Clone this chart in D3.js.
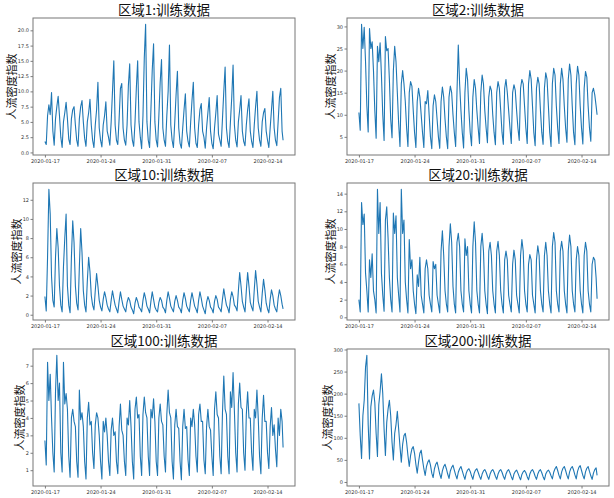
<!DOCTYPE html>
<html><head><meta charset="utf-8">
<script src="https://cdn.jsdelivr.net/npm/d3@7"></script>
<style>body{margin:0;background:#fff} svg{display:block}</style>
</head><body>
<svg id="c" width="614" height="498"></svg>
<script>
// ---------- DATA ----------
const regionNames = ["区域1", "区域2", "区域10", "区域20", "区域100", "区域200"];
const titleSuffix = ":训练数据";
const yLabelText = "人流密度指数";
const xTickDates = ["2020-01-17", "2020-01-24", "2020-01-31", "2020-02-07", "2020-02-14"];
const sampleHours = [0, 4, 8, 12, 16, 20];   // readings per day (hour of day)
const finalHour = 23;                          // last reading on the last day
const numDays = 30;

const yTicks1 = [0, 2.5, 5, 7.5, 10, 12.5, 15, 17.5, 20];
const yTicks2 = [5, 10, 15, 20, 25, 30];
const yTicks10 = [0, 2, 4, 6, 8, 10, 12];
const yTicks20 = [0, 2, 4, 6, 8, 10, 12, 14];
const yTicks100 = [1, 2, 3, 4, 5, 6, 7];
const yTicks200 = [0, 50, 100, 150, 200, 250, 300];

// values per day at hours 0,4,8,12,16,20 ; last value = final reading
const region1 = [
  1.8,1.3,6.0,7.8,6.2,9.8,  3.5,1.2,5.5,7.5,9.2,6.0,  2.5,0.8,5.0,6.5,8.2,5.5,
  2.2,1.3,5.5,7.0,7.5,4.5,  2.0,1.0,5.5,7.5,8.5,5.0,  2.3,1.0,5.0,6.5,8.7,4.5,
  2.0,0.8,4.5,7.0,11.5,4.0, 2.0,0.9,4.5,6.0,8.3,3.5,  2.5,1.2,5.0,10.0,15.0,4.5,
  2.0,1.3,5.5,10.5,11.3,4.0, 2.0,1.2,4.5,11.0,14.5,4.5, 2.0,1.0,5.0,10.5,15.0,5.0,
  2.5,0.6,6.0,15.5,21.0,5.0, 2.0,0.8,7.0,13.5,17.8,5.0, 2.0,0.9,6.0,11.5,15.2,4.0,
  2.0,1.0,6.0,10.0,17.6,4.5, 2.0,0.8,5.0,9.5,13.3,4.0, 1.5,0.7,4.0,7.0,9.6,3.5,
  1.8,0.9,5.0,8.5,11.5,4.0, 1.5,0.8,4.5,7.0,8.0,3.5,  2.5,0.7,4.0,6.5,9.0,3.5,
  1.5,0.6,4.0,6.5,9.3,3.0,  2.0,1.0,5.5,10.0,14.0,4.0, 1.8,0.8,5.0,9.0,14.3,4.5,
  2.0,0.9,5.0,7.0,9.3,3.5,  1.8,1.1,4.5,7.0,8.8,3.5,  1.8,0.8,4.5,7.5,10.0,4.0,
  2.0,1.0,5.0,6.5,7.2,3.5,  2.0,0.8,4.0,7.0,10.0,4.0, 2.0,1.1,5.0,9.0,10.5,3.5,
  2.0
];
const region2 = [
  10.5,6.5,30.5,25,29.8,22,  12,6.1,29.5,25,26.5,20,  11,4.7,25.5,22,26.3,19,
  10,4.2,27.7,24.5,25,18,    9,4.8,20,25.5,22,15,     8,2.8,17,20,17,13,
  7,2.8,15,17.5,16.5,11,     6,2.6,13,16,14,10,       6,2.6,13,12.5,15.5,10,
  5,2.3,12,14.5,13,9,        5,2.4,13,16.3,14,9,      5,2.3,14,16.5,15,10,
  6,2.8,15,25.8,17,11,       6,2.5,15,20.5,18,11,     6,3.0,14,18,16,11,
  7,3.5,15,19,17,11,         7,3.7,14,16.5,15.5,10,   6,3.2,15,17.5,16,11,
  6,3.3,16,18,15,11,         7,3.5,15,16.8,15.5,11,   7,4.2,16,18,17,12,
  7,3.5,17,20,18,12,         6,3.0,16,18.5,17,11,     6,3.3,16,19.5,18,12,
  6,2.8,17,20.5,19,12,       7,3.5,17,20.5,18,12,     7,3.8,18,21.5,19,12,
  6,3.2,17,21,19,12,         7,3.4,16,19.8,18.5,12,   7,4.0,15,16,14.5,12,
  10
];
const region10 = [
  1.9,0.4,6.0,13.1,10.5,4.0, 1.5,0.8,6.0,9.0,7.0,3.0, 1.0,0.3,5.0,8.0,10.5,3.0,
  1.0,0.2,6.0,9.8,7.5,3.0,   1.2,0.5,5.0,9.0,6.5,2.5, 1.0,0.3,3.5,6.0,4.5,2.0,
  1.0,0.5,2.5,4.3,3.0,1.5,   0.8,0.4,1.6,2.4,1.8,1.0, 0.6,0.3,1.5,2.5,1.7,1.0,
  0.6,0.2,1.4,2.4,1.6,0.9,   0.6,0.3,1.3,1.8,1.5,0.8, 0.5,0.1,1.2,1.8,1.4,0.8,
  0.6,0.3,1.5,2.3,1.7,0.9,   0.6,0.2,1.4,2.4,1.6,0.8, 0.5,0.3,1.3,1.8,1.5,0.8,
  0.6,0.2,1.5,2.4,1.7,0.9,   0.6,0.3,1.4,2.0,1.5,0.8, 0.6,0.2,1.5,2.3,1.7,0.9,
  0.6,0.3,1.5,2.3,1.6,0.9,   0.6,0.2,1.5,2.4,1.7,0.9, 0.5,0.1,1.3,1.9,1.5,0.8,
  0.6,0.2,1.4,2.0,1.6,0.8,   0.6,0.3,1.6,2.7,1.8,1.0, 0.7,0.2,1.6,2.4,1.9,1.0,
  0.8,0.4,2.5,4.4,3.0,1.4,   0.8,0.3,2.5,4.4,3.0,1.3, 0.8,0.4,2.6,4.6,3.2,1.4,
  0.8,0.3,2.2,3.7,2.6,1.2,   0.6,0.2,1.6,2.6,2.0,1.0, 0.6,0.3,1.7,2.6,2.0,1.1,
  0.6
];
const region20 = [
  2.0,0.6,13.0,10.5,11.7,5.0, 3.0,0.6,6.5,4.5,7.2,3.0,  2.0,0.5,14.5,9.5,13.0,5.0,
  2.5,0.7,11.0,12.5,9.0,4.5,  2.0,0.6,11.8,9.5,11.5,4.5, 2.5,0.6,14.5,9.5,11.0,4.0,
  2.0,0.5,8.8,5.5,6.5,3.0,    1.5,0.4,4.8,3.5,6.8,2.5,   1.5,0.5,5.5,6.5,5.5,2.5,
  1.5,0.6,6.3,5.5,6.0,2.5,    1.5,0.5,7.5,9.8,7.0,3.0,   1.5,0.6,8.0,10.6,8.5,3.5,
  1.5,0.5,8.5,9.5,8.0,3.0,    1.5,0.6,8.9,7.0,8.0,3.0,   1.5,0.5,8.0,10.8,8.5,3.0,
  1.5,0.5,8.0,9.5,7.5,3.0,    1.5,0.4,7.5,8.5,7.0,3.0,   1.5,0.5,7.5,8.6,7.0,3.0,
  1.5,0.5,6.5,7.5,6.5,2.5,    1.5,0.6,6.0,7.6,6.5,2.5,   1.5,0.5,7.0,8.8,7.5,3.0,
  1.5,0.6,6.0,7.1,6.5,2.5,    1.5,0.5,6.5,8.1,7.0,3.0,   1.5,0.6,7.0,8.5,7.0,3.0,
  1.5,0.5,8.0,9.6,8.5,3.0,    1.5,0.6,7.5,8.6,7.5,3.0,   1.5,0.5,7.5,9.3,8.0,3.0,
  1.5,0.6,6.5,8.0,7.0,3.0,    1.5,0.5,7.0,8.5,7.5,3.0,   1.5,0.6,6.0,6.8,6.5,4.5,
  2.1
];
const region100 = [
  2.7,1.3,7.2,5.0,6.5,4.0,  2.0,0.9,5.5,7.6,5.0,6.0,  2.0,0.9,7.2,4.8,5.4,4.5,
  1.8,0.6,4.0,4.5,3.8,3.5,  1.5,0.6,5.6,3.9,4.3,3.5,  1.5,0.5,4.0,4.9,3.6,3.8,
  2.0,1.1,3.6,4.3,4.0,3.0,  1.5,0.5,3.8,3.2,4.0,3.0,  1.5,0.7,3.3,4.0,3.0,3.2,
  1.5,0.8,3.5,4.8,3.3,3.0,  1.5,0.7,4.0,3.6,5.0,3.5,  1.5,0.5,4.5,5.2,4.0,4.2,
  1.8,0.7,4.2,5.2,4.3,4.0,  1.8,0.7,4.5,4.0,5.1,3.8,  1.5,0.7,4.0,4.8,3.8,3.6,
  1.8,0.9,4.2,5.6,4.3,4.0,  1.5,0.5,3.6,4.5,3.5,3.4,  1.5,0.45,3.5,4.5,3.4,3.5,
  1.6,0.7,4.0,3.5,4.5,3.6,  1.8,0.9,4.2,4.8,3.8,3.8,  1.6,0.8,3.5,4.5,3.5,3.3,
  1.8,0.7,4.5,5.5,4.2,4.0,  1.8,0.8,4.3,6.4,4.5,4.2,  1.8,0.8,5.5,4.6,6.6,4.4,
  2.0,0.9,4.8,6.0,4.6,4.5,  2.0,1.0,4.2,5.5,4.0,4.0,  2.0,1.0,4.5,4.0,5.6,4.0,
  1.8,0.8,4.0,5.3,3.8,3.8,  2.0,1.1,3.5,4.6,3.0,3.6,  2.2,1.2,4.0,3.0,4.5,3.8,
  2.3
];
const region200 = [
  178,105,53,150,185,260,  287,130,52,170,195,208,  180,110,58,175,205,245,
  200,120,60,135,165,185,  150,90,50,110,130,160,   120,80,45,85,105,110,
  90,60,35,60,75,80,       65,40,20,45,65,72,       50,30,15,35,45,50,
  38,20,10,30,40,45,       32,18,8,25,35,40,        30,18,8,25,33,38,
  27,16,7,22,30,35,        25,15,6,20,27,30,        24,14,6,20,27,30,
  22,13,6,18,25,28,        22,13,6,18,25,28,        22,13,6,18,25,28,
  22,13,6,18,25,28,        21,12,5,18,24,27,        20,12,5,17,23,26,
  21,12,5,18,25,28,        22,13,6,18,25,28,        21,12,5,18,24,27,
  22,14,7,22,30,35,        26,15,7,23,31,35,        26,15,7,23,31,35,
  27,16,7,24,33,37,        26,15,7,23,31,35,        24,14,6,20,28,32,
  15
];

const seriesList = [region1, region2, region10, region20, region100, region200];
const tickList = [yTicks1, yTicks2, yTicks10, yTicks20, yTicks100, yTicks200];
const tickFormats = [d3.format(".1f"), d3.format("d"), d3.format("d"), d3.format("d"), d3.format("d"), d3.format("d")];

// ---------- LAYOUT ----------
const colLeft = [33, 347];
const rowTop = [18, 183, 349];
const pw = 262, ph = 137;
const lineColor = "#1f77b4";
const cjk = "'Noto Sans CJK SC', 'Noto Sans', sans-serif";
const tickFont = "'DejaVu Sans', sans-serif";

const svg = d3.select("#c");
const parseDay = d3.timeParse("%Y-%m-%d");
const t0 = parseDay(xTickDates[0]);

function timeOf(i) {
  const per = sampleHours.length;
  if (i >= numDays * per) return d3.timeHour.offset(d3.timeDay.offset(t0, numDays - 1), finalHour);
  const d = Math.floor(i / per), h = sampleHours[i % per];
  return d3.timeHour.offset(d3.timeDay.offset(t0, d), h);
}

seriesList.forEach((vals, k) => {
  const left = colLeft[k % 2], top = rowTop[Math.floor(k / 2)];
  const pts = vals.map((v, i) => ({t: timeOf(i), v}));
  const tMin = pts[0].t, tMax = pts[pts.length - 1].t;
  const span = tMax - tMin;
  const x = d3.scaleTime()
    .domain([new Date(+tMin - 0.05 * span), new Date(+tMax + 0.05 * span)])
    .range([0, pw]);
  const [vMin, vMax] = d3.extent(vals);
  const vr = vMax - vMin;
  const y = d3.scaleLinear().domain([vMin - 0.05 * vr, vMax + 0.05 * vr]).range([ph, 0]);

  const g = svg.append("g").attr("transform", `translate(${left},${top})`);

  g.append("clipPath").attr("id", "clip" + k)
    .append("rect").attr("width", pw).attr("height", ph);

  g.append("path")
    .datum(pts)
    .attr("clip-path", `url(#clip${k})`)
    .attr("fill", "none")
    .attr("stroke", lineColor)
    .attr("stroke-width", 1.1)
    .attr("stroke-linejoin", "round")
    .attr("d", d3.line().x(d => x(d.t)).y(d => y(d.v)));

  const xa = g.append("g").attr("transform", `translate(0,${ph})`)
    .call(d3.axisBottom(x).tickValues(xTickDates.map(parseDay))
      .tickFormat(d3.timeFormat("%Y-%m-%d")).tickSize(2.5).tickPadding(1.5));
  const ya = g.append("g")
    .call(d3.axisLeft(y).tickValues(tickList[k]).tickFormat(tickFormats[k]).tickSize(2.5).tickPadding(1.5));
  [xa, ya].forEach(a => {
    a.select(".domain").remove();
    a.selectAll("text").attr("font-family", tickFont).attr("font-size", 5).attr("fill", "#333");
    a.selectAll("line").attr("stroke", "#444").attr("stroke-width", 0.7);
  });

  g.append("rect").attr("x", 0).attr("y", 0).attr("width", pw).attr("height", ph)
    .attr("fill", "none").attr("stroke", "#777").attr("stroke-width", 1);

  g.append("text")
    .attr("x", pw / 2).attr("y", -3)
    .attr("text-anchor", "middle")
    .attr("font-family", cjk).attr("font-size", 13.5).attr("fill", "#111")
    .text(regionNames[k] + titleSuffix);

  const bb = ya.node().getBBox();
  const lx = bb.x - 6.5;
  g.append("text")
    .attr("transform", `translate(${lx},${ph / 2}) rotate(-90)`)
    .attr("text-anchor", "middle")
    .attr("dominant-baseline", "central")
    .attr("font-family", cjk).attr("font-size", 11).attr("fill", "#111")
    .text(yLabelText);
});
</script>
</body></html>
